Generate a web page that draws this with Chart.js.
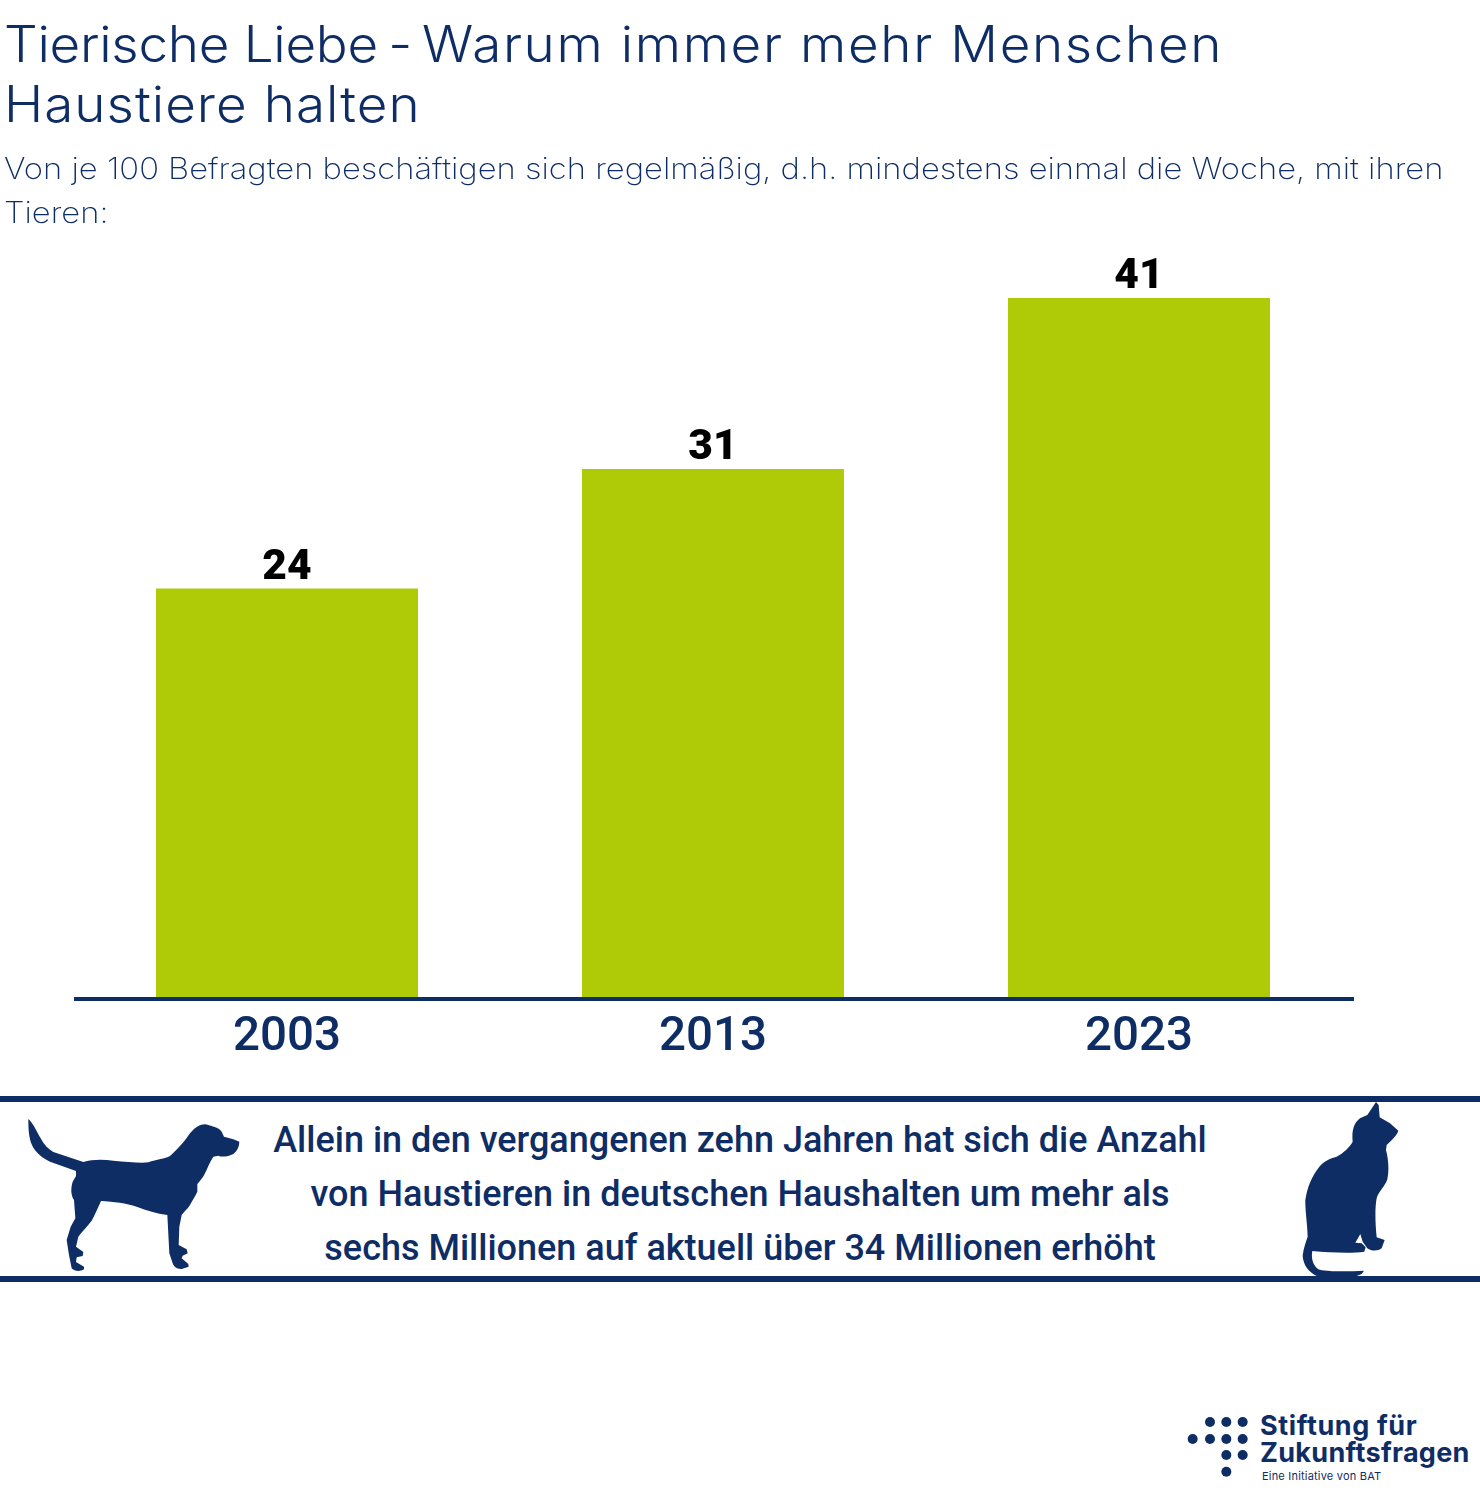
<!DOCTYPE html>
<html lang="de">
<head>
<meta charset="utf-8">
<title>Tierische Liebe</title>
<script src="https://cdn.jsdelivr.net/npm/chart.js@4/dist/chart.umd.min.js"></script>
<style>
  html, body { margin: 0; padding: 0; background: #fff; }
  #page { position: relative; width: 1480px; height: 1502px; overflow: hidden; color: #0f2d65; }
  #page canvas { position: absolute; left: 0; top: 0; }
  .t { position: absolute; white-space: nowrap; margin: 0; }
  .title { font: 300 50px/60px Inter, sans-serif; left: 4px; letter-spacing: 0.63px; transform: scaleX(1.06); transform-origin: 0 0; }
  .sub { font: 200 29.5px/44px Inter, sans-serif; left: 4px; transform: scaleX(1.11); transform-origin: 0 0; }
  .note { font: 500 36px/54px Roboto, sans-serif; left: 0; width: 1480px; text-align: center; }
  .rule { position: absolute; left: 0; width: 1480px; height: 6px; background: #0f2d65; }
  .brand { font: 700 27px/29px Inter, sans-serif; left: 1260px; }
  .brand-sub { font: 400 11px/12px Inter, sans-serif; letter-spacing: 0.2px; left: 1262px; top: 1470px; }
  svg { position: absolute; }
</style>
</head>
<body>
<div id="page">
  <canvas id="chart" width="1480" height="1090"></canvas>

  <h1 class="t title" style="top:14px;font-weight:300"><span style="letter-spacing:-0.27px">Tierische Liebe</span><span style="word-spacing:-6px;margin-left:1px;margin-right:0"> - </span><span style="letter-spacing:1.53px">Warum immer mehr Menschen</span></h1>
  <h1 class="t title" style="top:74px;font-weight:300;letter-spacing:0.95px">Haustiere halten</h1>
  <p class="t sub" style="top:145.5px">Von je 100 Befragten beschäftigen sich regelmäßig, d.h. mindestens einmal die Woche, mit ihren</p>
  <p class="t sub" style="top:189.5px">Tieren:</p>

  <div class="rule" style="top:1096px"></div>
  <div class="rule" style="top:1276px"></div>

  <p class="t note" style="top:1113px">Allein in den vergangenen zehn Jahren hat sich die Anzahl</p>
  <p class="t note" style="top:1167px">von Haustieren in deutschen Haushalten um mehr als</p>
  <p class="t note" style="top:1221px">sechs Millionen auf aktuell über 34 Millionen erhöht</p>

  <!-- Dog silhouette -->
  <svg style="left:0;top:1090px" width="260" height="200" viewBox="0 0 780 600">
    <path fill="#0f2d65" d="M85 87 C100 100 110 125 122 145 C132 165 145 178 160 186 L250 216 C275 208 310 208 340 212 C380 215 420 220 445 217 C470 208 495 206 510 198 C530 180 550 160 570 130 C585 112 600 103 615 103 C635 108 655 112 665 125 L672 140 L700 148 L718 155 C718 170 712 182 700 192 C685 200 665 202 655 197 L640 200 C630 215 622 235 615 250 C608 265 598 275 592 282 L592 305 C585 320 575 335 570 345 C562 358 552 365 545 375 L538 410 L536 465 L560 478 L563 490 L548 497 L545 505 L565 522 L566 530 L545 537 C530 538 522 530 518 520 L508 490 L502 375 C470 370 440 362 410 350 C380 340 340 335 303 333 C295 350 285 375 275 392 C262 410 245 425 235 440 L228 470 L250 486 L248 498 L230 502 L228 516 L252 530 L252 538 C240 545 225 545 215 535 L207 495 L200 450 L212 410 L226 385 L222 330 C212 315 212 295 218 275 L228 258 L228 243 L150 215 C120 200 100 180 92 155 C85 130 85 105 85 87 Z"/>
  </svg>

  <!-- Cat silhouette -->
  <svg style="left:1280px;top:1090px" width="200" height="200" viewBox="0 0 600 600">
    <path fill="#0f2d65" d="M288 36 L296 45 L299 82 L330 100 L355 122 C350 138 335 150 320 165 L318 180 C325 205 328 240 322 268 C315 290 295 305 290 325 C285 350 285 395 290 442 L314 450 L305 475 C295 483 275 485 262 475 L248 455 L241 432 L226 458 L245 460 L257 472 L253 485 C220 490 150 488 97 483 C93 505 98 525 115 538 C130 545 200 545 252 542 L245 552 L230 558 L110 558 C85 545 70 525 68 497 C70 475 78 455 83 440 C82 400 75 360 76 330 C82 290 95 260 118 230 C130 215 150 205 170 200 C190 190 210 170 218 155 C215 125 220 100 240 85 L262 75 Z"/>
  </svg>

  <!-- Foundation logo -->
  <svg style="left:1170px;top:1400px" width="310" height="90" viewBox="0 0 930 270">
    <g fill="#0f2d65">
      <circle cx="120" cy="66" r="15"/><circle cx="169" cy="66" r="15"/><circle cx="218" cy="66" r="15"/>
      <circle cx="68" cy="117" r="15"/><circle cx="120" cy="117" r="15"/><circle cx="169" cy="117" r="15"/><circle cx="218" cy="117" r="15"/>
      <circle cx="169" cy="165" r="15"/><circle cx="218" cy="165" r="15"/>
      <circle cx="169" cy="215" r="15"/>
    </g>
  </svg>
  <div class="t brand" style="top:1411px;letter-spacing:0.6px">Stiftung für</div>
  <div class="t brand" style="top:1438px;letter-spacing:0.3px">Zukunftsfragen</div>
  <div class="t brand-sub">Eine Initiative von BAT</div>
</div>

<script>
// Weekly time spent with pets, per 100 respondents
const years = ['2003', '2013', '2023'];
const respondents = [24, 31, 41];

const navy = '#0f2d65';
const green = '#afcb08';

// Baseline over the bar feet, running slightly past the last category,
// and each bar's value written just above its top edge
const barDecorations = {
  id: 'barDecorations',
  afterDatasetsDraw(chart) {
    const { ctx } = chart;
    const x = chart.scales.x;
    const y = chart.scales.y;
    const zero = y.getPixelForValue(0);
    ctx.save();
    ctx.fillStyle = navy;
    ctx.fillRect(x.left, zero - 2, x.right - x.left + 2, 4);

    ctx.font = '900 42.5px Roboto, sans-serif';
    ctx.fillStyle = '#000';
    ctx.textAlign = 'center';
    ctx.textBaseline = 'alphabetic';
    chart.getDatasetMeta(0).data.forEach((bar, i) => {
      ctx.fillText(String(respondents[i]), bar.x, bar.y - 10);
    });
    ctx.restore();
  }
};

new Chart(document.getElementById('chart'), {
  type: 'bar',
  data: {
    labels: years,
    datasets: [{
      data: respondents,
      backgroundColor: green,
      categoryPercentage: 1,
      barPercentage: 0.615
    }]
  },
  options: {
    responsive: false,
    animation: false,
    layout: { padding: { left: 74, right: 128, top: 144, bottom: 12 } },
    plugins: { legend: { display: false }, tooltip: { enabled: false } },
    scales: {
      x: {
        grid: { display: false, drawTicks: false },
        border: { display: false },
        ticks: { color: navy, padding: 11, font: { family: 'Roboto, sans-serif', size: 47.5, weight: '500' } }
      },
      y: {
        display: false,
        min: 0,
        max: 50
      }
    }
  },
  plugins: [barDecorations]
});
</script>
</body>
</html>
